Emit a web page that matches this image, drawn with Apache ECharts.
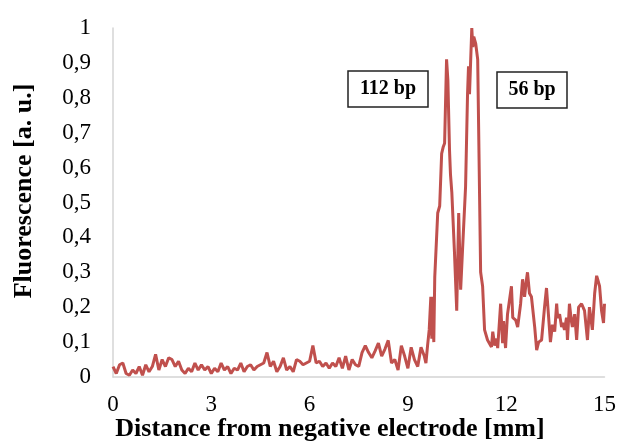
<!DOCTYPE html>
<html>
<head>
<meta charset="utf-8">
<script src="https://cdn.jsdelivr.net/npm/echarts@6/dist/echarts.min.js"></script>
<style>
  html, body { margin: 0; padding: 0; background: #fff; }
  #chart { width: 619px; height: 446px; }
</style>
</head>
<body>
<div id="chart"></div>
<script>
// distance [mm] and fluorescence [a. u.]
const distance = [
  0.0, 0.1, 0.2, 0.3, 0.4, 0.5, 0.6, 0.7, 0.8, 0.9,
  1.0, 1.1, 1.2, 1.3, 1.4, 1.5, 1.6, 1.7, 1.8, 1.9,
  2.0, 2.1, 2.2, 2.3, 2.4, 2.5, 2.6, 2.7, 2.8, 2.9,
  3.0, 3.1, 3.2, 3.3, 3.4, 3.5, 3.6, 3.7, 3.8, 3.9,
  4.0, 4.1, 4.2, 4.3, 4.4, 4.5, 4.6, 4.7, 4.8, 4.9,
  5.0, 5.1, 5.2, 5.3, 5.4, 5.5, 5.6, 5.7, 5.8, 5.9,
  6.0, 6.1, 6.2, 6.3, 6.4, 6.5, 6.6, 6.7, 6.8, 6.9,
  7.0, 7.1, 7.2, 7.3, 7.4, 7.5, 7.6, 7.7, 7.8, 7.9,
  8.0, 8.1, 8.2, 8.3, 8.4, 8.5, 8.6, 8.7, 8.8, 8.9,
  9.0, 9.1, 9.2, 9.3, 9.4, 9.5, 9.55, 9.6, 9.65, 9.7,
  9.73, 9.76, 9.79, 9.82, 9.86, 9.91, 9.97, 10.03, 10.08, 10.12,
  10.18, 10.22, 10.27, 10.3, 10.34, 10.42, 10.49, 10.55, 10.61, 10.67,
  10.76, 10.82, 10.85, 10.88, 10.95, 10.98, 11.01, 11.07, 11.13, 11.22,
  11.28, 11.34, 11.43, 11.49, 11.55, 11.59, 11.65, 11.71, 11.74, 11.83,
  11.89, 11.92, 11.98, 12.04, 12.16, 12.2, 12.29, 12.35, 12.44, 12.5,
  12.56, 12.62, 12.65, 12.71, 12.77, 12.87, 12.93, 12.99, 13.08, 13.17,
  13.23, 13.26, 13.35, 13.41, 13.48, 13.54, 13.57, 13.63, 13.69, 13.72,
  13.78, 13.84, 13.87, 13.93, 13.99, 14.02, 14.09, 14.15, 14.21, 14.3,
  14.36, 14.39, 14.48, 14.54, 14.63, 14.7, 14.76, 14.79, 14.85, 14.91,
  14.97, 15.0
];
const fluorescence = [
  0.03, 0.01, 0.035, 0.04, 0.01, 0.005, 0.02, 0.01, 0.03, 0.005,
  0.035, 0.015, 0.03, 0.065, 0.02, 0.05, 0.03, 0.055, 0.05, 0.03,
  0.045, 0.02, 0.01, 0.025, 0.015, 0.04, 0.02, 0.035, 0.02, 0.03,
  0.01, 0.025, 0.015, 0.04, 0.02, 0.03, 0.01, 0.025, 0.02, 0.04,
  0.015, 0.03, 0.035, 0.02, 0.03, 0.035, 0.04, 0.07, 0.03, 0.045,
  0.015, 0.03, 0.055, 0.02, 0.03, 0.015, 0.05, 0.045, 0.035, 0.04,
  0.045, 0.09, 0.04, 0.045, 0.03, 0.04, 0.025, 0.04, 0.03, 0.055,
  0.025, 0.06, 0.02, 0.05, 0.035, 0.03, 0.07, 0.09, 0.07, 0.055,
  0.075, 0.097, 0.06, 0.08, 0.105, 0.04, 0.05, 0.02, 0.09, 0.06,
  0.025, 0.085, 0.05, 0.03, 0.085, 0.06, 0.04, 0.09, 0.135, 0.23,
  0.11, 0.23, 0.1, 0.287, 0.29, 0.47, 0.49, 0.64, 0.66, 0.67,
  0.91, 0.85, 0.65, 0.58, 0.53, 0.36, 0.19, 0.47, 0.25, 0.37,
  0.545, 0.81, 0.89, 0.81, 1.0, 0.945, 0.975, 0.955, 0.91, 0.30,
  0.26, 0.135, 0.106, 0.11, 0.086, 0.13, 0.09, 0.11, 0.083, 0.21,
  0.097, 0.16, 0.083, 0.18, 0.26, 0.17, 0.163, 0.143, 0.21, 0.28,
  0.23, 0.28, 0.30, 0.24, 0.23, 0.143, 0.077, 0.10, 0.106, 0.20,
  0.255, 0.25, 0.10, 0.15, 0.13, 0.21, 0.17, 0.18, 0.143, 0.155,
  0.135, 0.17, 0.106, 0.21, 0.16, 0.143, 0.18, 0.106, 0.20, 0.21,
  0.205, 0.19, 0.106, 0.20, 0.135, 0.24, 0.29, 0.28, 0.26, 0.19,
  0.155, 0.21
];
const xTicks = [0, 3, 6, 9, 12, 15];
const peakLabels = ['112 bp', '56 bp'];

const serif = '"Liberation Serif", "Times New Roman", serif';
const chart = echarts.init(document.getElementById('chart'), null, { renderer: 'canvas' });

const option = {
  animation: false,
  backgroundColor: '#fff',
  grid: { left: 113, right: 14, top: 28, bottom: 69 },
  xAxis: {
    type: 'value',
    min: xTicks[0],
    max: xTicks[xTicks.length - 1],
    interval: 3,
    axisLine: { show: true, lineStyle: { color: '#d4d4d4', width: 1.5 } },
    axisTick: { show: false },
    splitLine: { show: false },
    axisLabel: { color: '#000', fontFamily: serif, fontSize: 23, margin: 16 }
  },
  yAxis: {
    type: 'value',
    min: 0,
    max: 1,
    interval: 0.1,
    axisLine: { show: true, lineStyle: { color: '#d4d4d4', width: 1.5 } },
    axisTick: { show: false },
    splitLine: { show: false },
    axisLabel: {
      color: '#000', fontFamily: serif, fontSize: 23, margin: 22,
      formatter: v => String(Math.round(v * 10) / 10).replace('.', ',')
    }
  },
  graphic: [
    {
      type: 'text', x: 330, y: 416,
      style: { text: 'Distance from negative electrode [mm]', fontFamily: serif, fontWeight: 'bold', fontSize: 26, fill: '#000', align: 'center', verticalAlign: 'top' }
    },
    {
      type: 'text', x: 11, y: 191, rotation: Math.PI / 2,
      style: { text: 'Fluorescence [a. u.]', fontFamily: serif, fontWeight: 'bold', fontSize: 26, fill: '#000', align: 'center', verticalAlign: 'top' }
    },
    {
      type: 'group', x: 348, y: 71,
      children: [
        { type: 'rect', shape: { x: 0, y: 0, width: 80, height: 36 }, style: { fill: '#fff', stroke: '#222', lineWidth: 1.5 } },
        { type: 'text', x: 40, y: 18, style: { text: peakLabels[0], fontFamily: serif, fontWeight: 'bold', fontSize: 20, fill: '#000', align: 'center', verticalAlign: 'middle' } }
      ]
    },
    {
      type: 'group', x: 497, y: 72,
      children: [
        { type: 'rect', shape: { x: 0, y: 0, width: 70, height: 36 }, style: { fill: '#fff', stroke: '#222', lineWidth: 1.5 } },
        { type: 'text', x: 35, y: 18, style: { text: peakLabels[1], fontFamily: serif, fontWeight: 'bold', fontSize: 20, fill: '#000', align: 'center', verticalAlign: 'middle' } }
      ]
    }
  ],
  series: [
    {
      type: 'line',
      data: distance.map((d, i) => [d, fluorescence[i]]),
      showSymbol: false,
      clip: false,
      lineStyle: { color: '#c0504d', width: 3 },
      itemStyle: { color: '#c0504d' }
    }
  ]
};
chart.setOption(option);
</script>
</body>
</html>
